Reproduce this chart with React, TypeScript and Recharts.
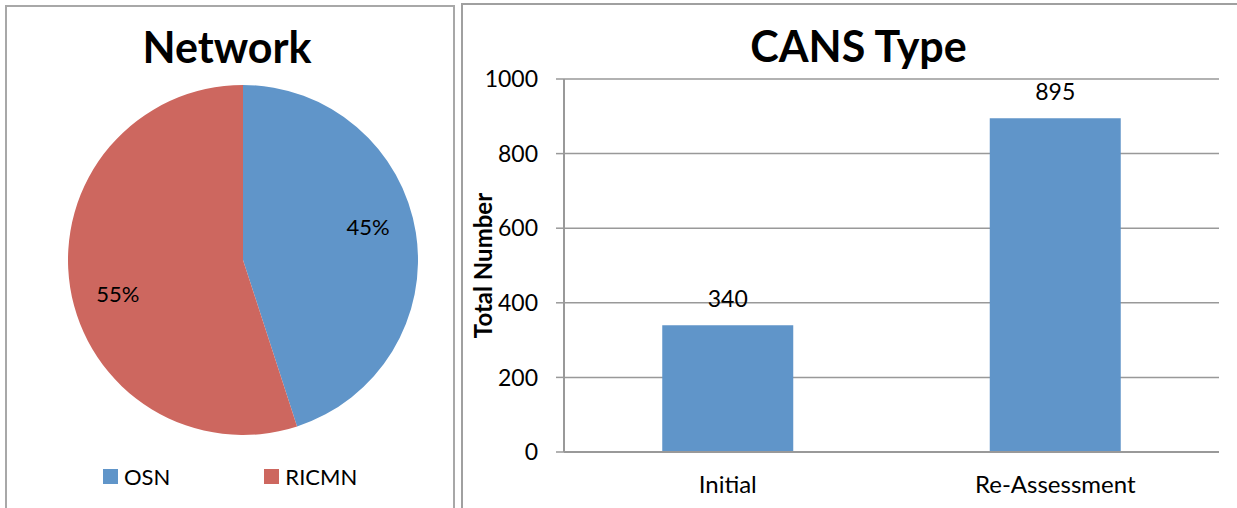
import { PieChart, Pie, Cell, Legend, BarChart, Bar, XAxis, YAxis, CartesianGrid, LabelList } from 'recharts';

const networkNames = ['OSN', 'RICMN'];
const networkShares = [45, 55];
const networkColors = ['#6095C9', '#CD675F'];

const cansTypes = ['Initial', 'Re-Assessment'];
const cansTotals = [340, 895];
const yTicks = [0, 200, 400, 600, 800, 1000];

const pieData = networkNames.map((name, i) => ({ name, value: networkShares[i] }));
const barData = cansTypes.map((type, i) => ({ type, total: cansTotals[i] }));

const font = 'Lato, "Open Sans", sans-serif';
const RAD = Math.PI / 180;

// Excel sets the percent labels a little counter-clockwise of each slice middle
function renderPieLabel(props: any) {
  const { cx, cy, midAngle, outerRadius, percent } = props;
  const r = outerRadius * 0.74;
  const a = (midAngle + 6) * RAD;
  const x = cx + r * Math.cos(-a);
  const y = cy + r * Math.sin(-a);
  return (
    <text x={x} y={y} textAnchor="middle" dominantBaseline="central" fill="#000" fontSize={22} fontFamily={font}>
      {`${Math.round(percent * 100)}%`}
    </text>
  );
}

function renderLegend(props: any) {
  const { payload } = props;
  return (
    <div style={{ display: 'flex', fontFamily: font, fontSize: 22, color: '#000' }}>
      {payload.map((entry: any, i: number) => (
        <div key={entry.value} style={{ display: 'flex', alignItems: 'center', marginRight: i === 0 ? 94 : 0 }}>
          <span style={{ width: 15, height: 15, background: entry.color, marginRight: 6, display: 'inline-block' }} />
          <span>{entry.value}</span>
        </div>
      ))}
    </div>
  );
}

export default function App() {
  return (
    <div style={{ position: 'absolute', left: 0, top: 0, width: 1237, height: 508, background: '#fff', overflow: 'hidden' }}>
      {/* left panel frame */}
      <div style={{ position: 'absolute', left: 5, top: 5, width: 446, height: 520, border: '2px solid #a8a8a8' }} />
      {/* right panel frame */}
      <div style={{ position: 'absolute', left: 461, top: 3, width: 790, height: 520, border: '2px solid #a0a0a0' }} />

      <div style={{ position: 'absolute', left: 0, top: 21, width: 454, textAlign: 'center', fontFamily: font, fontWeight: 700, fontSize: 43, lineHeight: '52px' }}>
        Network
      </div>
      <div style={{ position: 'absolute', left: 0, top: 0 }}>
        <PieChart width={460} height={508}>
          <Pie
            data={pieData}
            dataKey="value"
            nameKey="name"
            cx={238}
            cy={255}
            outerRadius={175}
            startAngle={90}
            endAngle={-270}
            stroke="none"
            label={renderPieLabel}
            labelLine={false}
            isAnimationActive={false}
          >
            {pieData.map((d, i) => (
              <Cell key={d.name} fill={networkColors[i]} />
            ))}
          </Pie>
          <Legend
            content={renderLegend}
            wrapperStyle={{ position: 'absolute', left: 103, top: 463, width: 320 }}
          />
        </PieChart>
      </div>

      <div style={{ position: 'absolute', left: 471, top: 20, width: 775, textAlign: 'center', fontFamily: font, fontWeight: 700, fontSize: 43, lineHeight: '52px' }}>
        CANS Type
      </div>
      <div style={{ position: 'absolute', left: 462, top: 0 }}>
        <BarChart width={775} height={508} data={barData} margin={{ top: 79, right: 18, bottom: 0, left: 0 }} barCategoryGap="30%">
          <CartesianGrid vertical={false} stroke="#999" strokeWidth={1.5} />
          <XAxis
            dataKey="type"
            height={56}
            tickLine={false}
            tickSize={0}
            tickMargin={24}
            axisLine={{ stroke: '#999', strokeWidth: 2 }}
            tick={{ fontSize: 24, fill: '#000', fontFamily: font }}
          />
          <YAxis
            width={102}
            domain={[0, 1000]}
            ticks={yTicks}
            interval={0}
            tickSize={8}
            tickMargin={18}
            axisLine={{ stroke: '#999', strokeWidth: 2 }}
            tickLine={{ stroke: '#999', strokeWidth: 1.5 }}
            tick={{ fontSize: 23, fill: '#000', fontFamily: font }}
            label={{
              value: 'Total Number',
              angle: -90,
              position: 'insideLeft',
              offset: 21,
              style: { fontSize: 24, fontWeight: 700, fill: '#000', fontFamily: font, textAnchor: 'middle' },
            }}
          />
          <Bar dataKey="total" fill="#6095C9" isAnimationActive={false}>
            <LabelList dataKey="total" position="top" offset={18} style={{ fontSize: 23, fill: '#000', fontFamily: font }} />
          </Bar>
        </BarChart>
      </div>
    </div>
  );
}
